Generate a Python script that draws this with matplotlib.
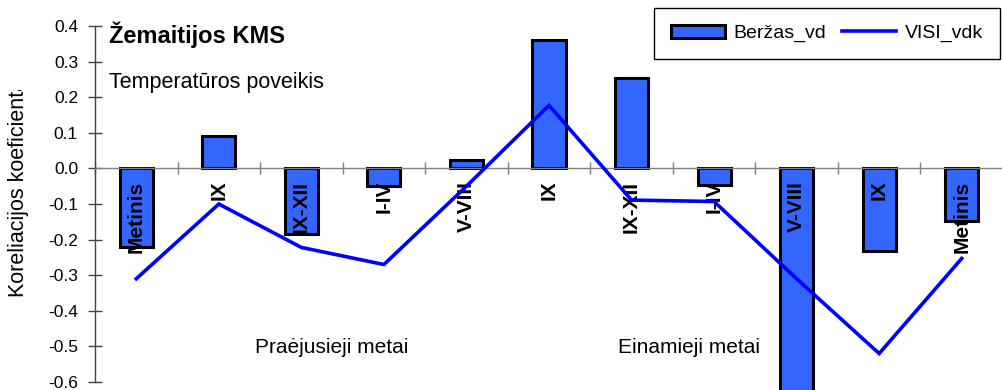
import numpy as np
import matplotlib
matplotlib.use("Agg")
import matplotlib.pyplot as plt
from matplotlib.transforms import Bbox

# data
categories = ['Metinis', 'IX', 'IX-XII', 'I-IV', 'V-VIII', 'IX',
              'IX-XII', 'I-IV', 'V-VIII', 'IX', 'Metinis']
berzas_vd = [-0.222, 0.09, -0.183, -0.05, 0.025, 0.36,
             0.253, -0.047, -0.65, -0.233, -0.149]
visi_vdk = [-0.31, -0.10, -0.222, -0.27, -0.05, 0.177,
            -0.089, -0.093, -0.31, -0.52, -0.253]
y_ticks = [-0.6, -0.5, -0.4, -0.3, -0.2, -0.1, 0.0, 0.1, 0.2, 0.3, 0.4]

plt.rcParams['font.family'] = ['Liberation Sans', 'DejaVu Sans']

W, H = 1003, 390
fig = plt.figure(figsize=(W / 100, H / 100), dpi=100)
ax = fig.add_axes([95 / W, 8 / H, 908 / W, 356 / H])

x = np.arange(len(categories))

# bars and line
bars = ax.bar(x, berzas_vd, width=0.4, color='#3366FF', edgecolor='black',
              linewidth=2.2, label='Beržas_vd', zorder=2, clip_on=False)
line, = ax.plot(x, visi_vdk, color='#0000FF', linewidth=2.6, label='VISI_vdk',
                zorder=4, solid_joinstyle='miter')

# category labels under the zero line
for i, cat in enumerate(categories):
    ax.text(i, -0.035, cat, rotation=90, ha='center', va='top',
            fontsize=15, fontweight='bold', zorder=3)

# axes styling
ax.set_xlim(-0.5, len(categories) - 0.5)
ax.set_ylim(-0.6, 0.4)
ax.set_yticks(y_ticks)
ax.set_yticklabels([f'{v:.1f}' for v in y_ticks])
ax.set_xticks(np.arange(len(categories)) - 0.5)
ax.set_xticklabels([])
ax.spines['top'].set_visible(False)
ax.spines['right'].set_visible(False)
ax.spines['bottom'].set_position(('data', 0))
ax.spines['bottom'].set_color('#808080')
ax.spines['bottom'].set_linewidth(1.0)
ax.spines['left'].set_color('#404040')
ax.spines['left'].set_linewidth(1.0)
ax.tick_params(axis='y', direction='inout', length=9.4, width=1.0,
               colors='#404040', labelcolor='black', labelsize=12.5, pad=7.5)
ax.tick_params(axis='x', direction='inout', length=8.5, width=1.0,
               colors='#808080')
ax.patch.set_visible(False)

# text annotations
ax.text(0.0154, 0.952, 'Žemaitijos KMS', transform=ax.transAxes,
        fontsize=17, fontweight='bold', va='baseline', ha='left')
ax.text(0.0154, 0.826, 'Temperatūros poveikis', transform=ax.transAxes,
        fontsize=15.5, va='baseline', ha='left')
ax.text(0.176, 0.081, 'Praėjusieji metai', transform=ax.transAxes,
        fontsize=15, va='baseline', ha='left')
ax.text(0.732, 0.081, 'Einamieji metai', transform=ax.transAxes,
        fontsize=15, va='baseline', ha='right')

# y label, clipped at the top like in the original
ylab = fig.text(19 / W, 1 - 297 / H, 'Koreliacijos koeficientas', rotation=90,
                ha='center', va='bottom', fontsize=15.5)
ylab.set_clip_box(Bbox.from_extents(0, 0, W, H - 90))
ylab.set_clip_on(True)

# legend
fig.legend([bars, line], ['Beržas_vd', 'VISI_vdk'], loc='upper right',
           bbox_to_anchor=(1000 / W, 1 - 8 / H), ncol=2,
           fontsize=14, frameon=True, fancybox=False, edgecolor='black',
           framealpha=1, borderpad=0.85, handlelength=2.8, handletextpad=0.45,
           columnspacing=0.8, borderaxespad=0)

fig.savefig('out.png', dpi=100)
plt.close(fig)
